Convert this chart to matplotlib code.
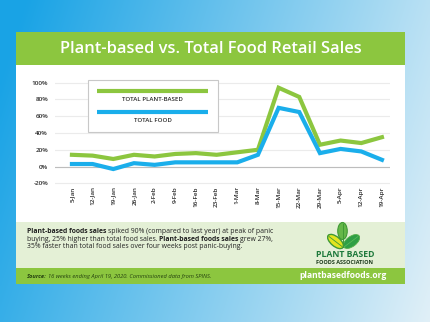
import numpy as np
import matplotlib
matplotlib.use('Agg')
import matplotlib.pyplot as plt
from matplotlib.patches import Rectangle, Ellipse

W, H = 430, 322

weeks = ['5-Jan', '12-Jan', '19-Jan', '26-Jan', '2-Feb', '9-Feb', '16-Feb', '23-Feb',
         '1-Mar', '8-Mar', '15-Mar', '22-Mar', '29-Mar', '5-Apr', '12-Apr', '19-Apr']
plant_based = [14, 13, 9, 14, 12, 15, 16, 14, 17, 20, 94, 83, 26, 31, 28, 35]
total_food = [3, 3, -3, 4, 2, 5, 5, 5, 5, 14, 70, 65, 16, 21, 18, 8]
y_ticks = [-20, 0, 20, 40, 60, 80, 100]

GREEN = '#8cc63f'
BLUE = '#1aaeeb'
FONT = 'Open Sans'

plt.rcParams['font.family'] = [FONT, 'DejaVu Sans']

fig = plt.figure(figsize=(W / 100, H / 100), dpi=100)

# background gradient + card, drawn in pixel coordinates
bg = fig.add_axes([0, 0, 1, 1], zorder=0)
xx, yy = np.meshgrid(np.linspace(0, 1, 200), np.linspace(0, 1, 150))
t = np.clip(0.85 * xx + 0.2 * yy - 0.05, 0, 1)
c0 = np.array([0.10, 0.64, 0.90])
c1 = np.array([0.88, 0.94, 0.97])
grad = c0 + (c1 - c0) * t[..., None]
bg.imshow(grad, extent=[0, W, H, 0], aspect='auto', interpolation='bilinear')
bg.set_xlim(0, W)
bg.set_ylim(H, 0)
bg.axis('off')

bg.add_patch(Rectangle((16, 32), 389, 34, color=GREEN, lw=0))
bg.add_patch(Rectangle((16, 65), 389, 157, color='white', lw=0))
bg.add_patch(Rectangle((16, 222), 389, 46, color='#e4f0d6', lw=0))
bg.add_patch(Rectangle((16, 268), 389, 16, color=GREEN, lw=0))

# chart
x = np.arange(len(weeks))
ylo, yhi = -22, 102
ppu = (183.3 - 82.7) / 120.0
top_px = 82.7 - (yhi - 100) * ppu
bot_px = 183.3 + (-20 - ylo) * ppu
ax = fig.add_axes([55 / W, 1 - bot_px / H, 335 / W, (bot_px - top_px) / H], zorder=1)
ax.set_facecolor('none')
ax.plot(x, plant_based, color=GREEN, lw=3.0, solid_joinstyle='miter', zorder=3)
ax.plot(x, total_food, color=BLUE, lw=3.0, solid_joinstyle='miter', zorder=3)
ax.set_xlim(-0.82, 15.39)
ax.set_ylim(ylo, yhi)
ax.set_yticks(y_ticks)
ax.set_yticklabels([f'{v}%' for v in y_ticks], fontsize=4.6, color='#2a2a2a', fontweight='semibold')
ax.set_xticks(x)
ax.set_xticklabels(weeks, rotation=90, fontsize=4.6, color='#2a2a2a', fontweight='semibold')
ax.tick_params(axis='x', length=0, pad=1)
ax.tick_params(axis='y', length=0, pad=5)
ax.yaxis.grid(True, color='#ebebeb', lw=0.8)
ax.axhline(0, color='#bdbdbd', lw=0.8, zorder=2)
for s in ax.spines.values():
    s.set_visible(False)

# overlay for legend, texts and logo
ov = fig.add_axes([0, 0, 1, 1], zorder=2)
ov.set_xlim(0, W)
ov.set_ylim(H, 0)
ov.axis('off')
ov.patch.set_alpha(0)

ov.add_patch(Rectangle((88, 80), 130, 52, facecolor='white', edgecolor='#c8c8c8', lw=0.8))
ov.plot([97, 208], [91, 91], color=GREEN, lw=3.0, solid_capstyle='butt')
ov.plot([97, 208], [112, 112], color=BLUE, lw=3.0, solid_capstyle='butt')
ov.text(152.5, 99.5, 'TOTAL PLANT-BASED', ha='center', va='center', fontsize=4.4,
        fontweight='semibold', color='#2a2a2a')
ov.text(152.5, 120.5, 'TOTAL FOOD', ha='center', va='center', fontsize=4.4,
        fontweight='semibold', color='#2a2a2a')

fig.canvas.draw()
renderer = fig.canvas.get_renderer()


def px_width(txt):
    bb = txt.get_window_extent(renderer)
    return bb.width


def fit(txt, target):
    w = px_width(txt)
    txt.set_fontsize(txt.get_fontsize() * target / w)


title = ov.text(210.5, 48.5, 'Plant-based vs. Total Food Retail Sales', ha='center', va='center',
                fontsize=12, color='white', fontweight='semibold')
fit(title, 303)


def runs(xs, y, parts, size, color, style='normal'):
    sp = ov.text(0, 0, 'a a', fontsize=size)
    sp2 = ov.text(0, 0, 'aa', fontsize=size)
    space = px_width(sp) - px_width(sp2)
    sp.remove()
    sp2.remove()
    cx = xs
    for s, weight in parts:
        if s.startswith(' '):
            cx += space
        tt = ov.text(cx, y, s.strip(), fontsize=size, fontweight=weight, color=color,
                     ha='left', va='center', fontstyle=style)
        cx += px_width(tt)
        if s.endswith(' '):
            cx += space
    return cx


# size body text so line 1 spans 27..272 px
probe = ov.text(0, 0, 'Plant-based foods sales spiked 90% (compared to last year) at peak of panic',
                fontsize=6)
body_size = 6 * 245 / px_width(probe)
probe.remove()

body = '#222222'
runs(27, 231.5, [('Plant-based foods sales', 'bold'),
                 (' spiked 90% (compared to last year) at peak of panic', 'normal')], body_size, body)
runs(27, 239, [('buying, 25% higher than total food sales. ', 'normal'),
               ('Plant-based foods sales', 'bold'), (' grew 27%,', 'normal')], body_size, body)
runs(27, 246.5, [('35% faster than total food sales over four weeks post panic-buying.', 'normal')],
     body_size, body)

probe = ov.text(0, 0, 'Source: 16 weeks ending April 19, 2020. Commissioned data from SPINS.',
                fontsize=5, fontstyle='italic')
src_size = 5 * 187 / px_width(probe)
probe.remove()
runs(27, 276.5, [('Source:', 'bold'), (' 16 weeks ending April 19, 2020. Commissioned data from SPINS.',
                                         'normal')], src_size, '#24400f', style='italic')

site = ov.text(343.5, 276, 'plantbasedfoods.org', ha='center', va='center', fontsize=7,
               fontweight='bold', color='white')
fit(site, 87)

# logo leaves
ov.add_patch(Ellipse((335.5, 241.5), 19, 9.5, angle=40, facecolor='#e3e41f', edgecolor='#3f9a35', lw=1.0))
ov.plot([329, 342], [236.5, 246.5], color='#3f9a35', lw=0.6)
ov.add_patch(Ellipse((351.5, 241.5), 19, 10, angle=-37, facecolor='#2f9e46', edgecolor='#55b04a', lw=0.6))
ov.plot([344, 358], [247, 236.5], color='#5cbf5a', lw=0.5)
ov.add_patch(Ellipse((342.5, 231), 9.5, 17, angle=0, facecolor='#64b748', edgecolor='#3f9a35', lw=0.8))
ov.plot([342.5, 342.5], [224, 247], color='#3f9a35', lw=0.7)
pb = ov.text(345, 254.5, 'PLANT BASED', ha='center', va='center', fontsize=6, fontweight='bold',
             color='#1f7a3c')
fit(pb, 59)
fa = ov.text(345, 262, 'FOODS ASSOCIATION', ha='center', va='center', fontsize=3.5,
             fontweight='bold', color='#1b3a1b')
fit(fa, 56)

fig.savefig('out.png', dpi=100)
